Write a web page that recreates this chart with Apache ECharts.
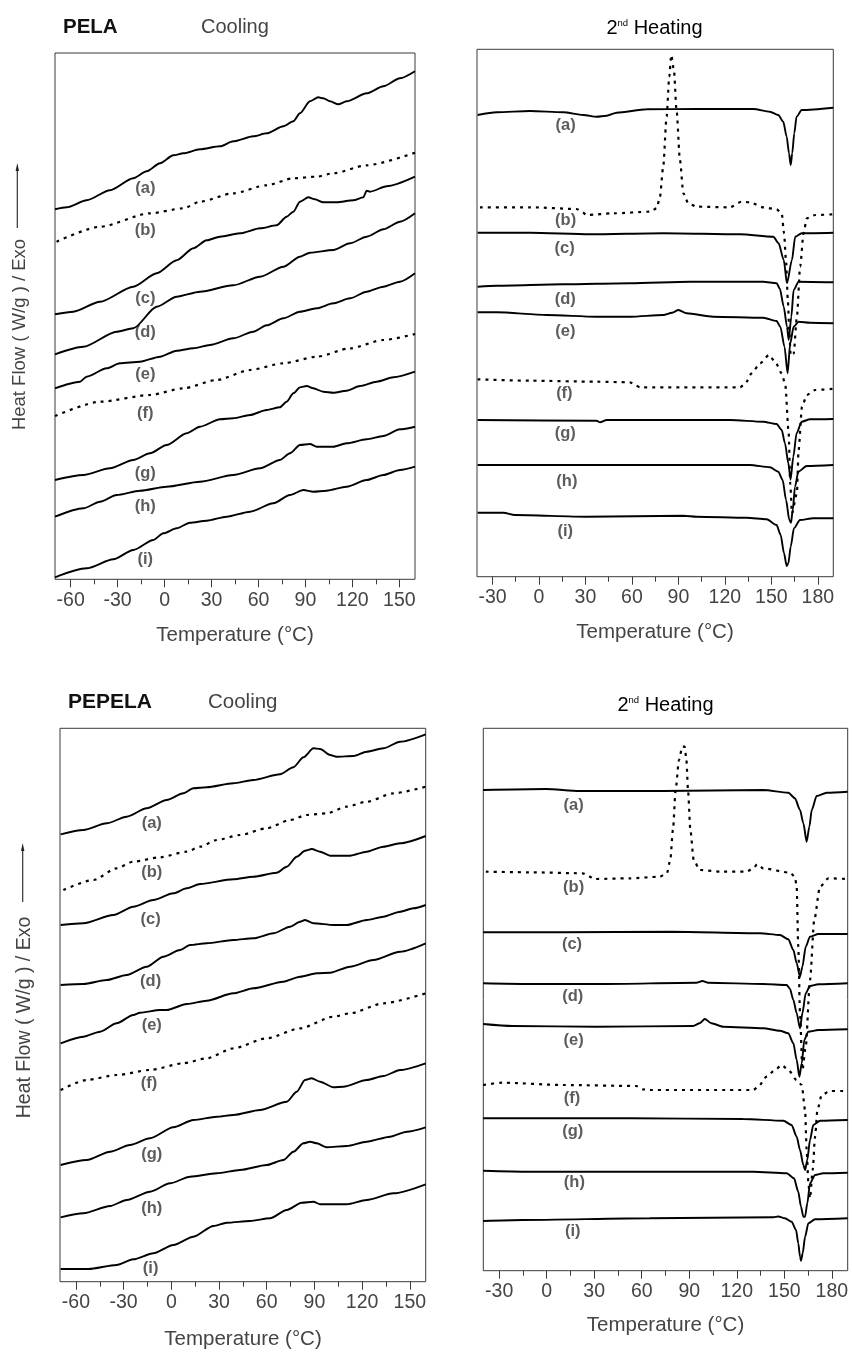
<!DOCTYPE html>
<html><head><meta charset="utf-8">
<script src="https://cdn.jsdelivr.net/npm/echarts@6/dist/echarts.min.js"></script>
<style>html,body{margin:0;padding:0;background:#fff}#c{width:852px;height:1354px}</style>
</head><body><div id="c"></div><script>
// ---------- tick labels ----------
const coolTicks = [-60,-30,0,30,60,90,120,150];
const coolMinorTicks = [-45,-15,15,45,75,105,135];
const heatTicks = [-30,0,30,60,90,120,150,180];
const heatMinorTicks = [-15,15,45,75,105,135,165];
const curveLetters = ['(a)','(b)','(c)','(d)','(e)','(f)','(g)','(h)','(i)'];
const dottedCurves = ['(b)','(f)'];

// ---------- PELA cooling [T (°C), heat flow (arb., offset)] ----------
const pelaCoolA = [[-70,370],[-62.5,372],[-49.8,379],[-34.9,389],[-20,401],[-11.4,408],[-2.9,416],[5.6,424],[12,426],[22.6,430],[35.4,433],[43.9,438],[56.7,443],[65.2,446],[75.9,453],[82.3,458],[86.5,466],[92.9,478],[98.2,482],[101.4,481],[105.7,478],[111,475],[116.3,478],[129.1,486],[139.8,493],[150.4,501],[160,508]];
const pelaCoolB = [[-69,337.6],[-41.2,352.6],[-9.3,366],[12,371],[22.6,377.6],[43.9,386],[65.2,394],[82.3,401],[97.1,402.6],[107.8,406],[129.1,414],[160,426.6]];
const pelaCoolC = [[-70,265],[-58.3,267.6],[-41.2,277.6],[-20,292.6],[-5,306],[7.7,319],[18.4,331],[26.9,339],[35.4,342.6],[48.2,346],[61,351],[71.6,354],[78,362.6],[82.3,367.6],[86.5,377.6],[91.9,382],[96.1,380],[101.4,377],[110,377],[120.6,379],[127,382],[129.1,388.6],[131.2,387.6],[141.9,393],[160,402.6]];
const pelaCoolD = [[-70,225],[-51.9,232.6],[-30.6,247.6],[-20,251],[-5,272.6],[7.7,282.6],[22.6,287.6],[43.9,294],[61,302.6],[75.9,312.6],[86.5,322.6],[92.9,326.6],[107.8,329.3],[118.5,336],[129.1,342.6],[139.8,350],[150.4,357.6],[160,366]];
const pelaCoolE = [[-70,191],[-54,197.6],[-49.8,202.6],[-37,211],[-28.5,216],[-15.7,217.6],[-2.9,222.6],[7.7,228.6],[18.4,231],[29,234.3],[43.9,241],[56.7,247.6],[65.2,254],[75.9,261],[86.5,267.6],[97.2,271],[107.8,276],[118.5,281],[129.1,287.6],[139.8,292.6],[150.4,297.6],[160,306]];
const pelaCoolF = [[-70,163.3],[-41.2,177.6],[-9.3,184.3],[12,191],[33.3,199.3],[54.6,209.3],[75.9,216],[97.2,222.6],[118.5,231],[139.8,239.3],[160,245.3]];
const pelaCoolG = [[-70,99.3],[-51.9,104.3],[-34.9,111],[-20,119.3],[-9.3,126],[1.3,134.3],[14.1,146],[22.6,152.6],[35.4,160],[43.9,161],[54.6,164.3],[65.2,169.3],[73.7,172],[78,177.6],[82.3,186],[86.5,191.9],[90.8,193.3],[95,191],[101.4,187.6],[107.8,186.6],[116.3,188.6],[124.9,193.3],[135.5,197.6],[146.2,202],[160,207.6]];
const pelaCoolH = [[-70,62.6],[-51.9,71],[-41.2,77.6],[-30.6,84.3],[-15.7,88.6],[1.3,92.6],[22.6,97.6],[43.9,104.3],[61,111],[73.7,119.3],[80.1,126],[86.5,134.3],[92.9,135.3],[97.2,132.6],[107.8,132.6],[116.3,136],[129.1,140],[139.8,143.3],[150.4,150],[160,152.6]];
const pelaCoolI = [[-70,2],[-49.8,11],[-32.7,20],[-20,29.3],[-7.2,39.3],[-0.8,46],[7.7,51],[16.2,56.6],[26.9,58.6],[39.7,62.6],[54.6,67.6],[69.5,76],[80.1,84.3],[88.7,89.3],[95,87.6],[103.5,88.6],[116.3,92.6],[129.1,99.3],[139.8,104.3],[150.4,109.3],[160,112.6]];
const pelaCoolLabelAt = [[-12.3,391],[-12.3,349],[-12.3,281],[-12.3,247],[-12.3,205],[-12.3,166],[-12.3,106],[-12.3,73],[-12.3,20]];

// ---------- PELA 2nd heating ----------
const pelaHeatA = [[-39.6,461.7],[-27.3,464.4],[-5.8,465.7],[15.7,464.4],[28.6,461.7],[37.2,460],[43.7,461],[50.2,464],[69.5,467.4],[101.8,467.7],[138.4,467.7],[149.1,465],[154.5,461.7],[157.7,455],[159.9,440],[161.4,423.4],[162.5,411.7],[163.5,423.4],[164.8,443.4],[166.3,460],[169.6,466.7],[190,469]];
const pelaHeatB = [[-38.1,369.4],[-5.8,369.4],[24.3,367.7],[27.6,365],[30.8,361.7],[48,363.4],[71.7,365],[76,368.4],[78.1,380],[80.2,410],[82.4,460],[84.1,500],[85.4,521.7],[87.1,506.7],[88.8,466.7],[91,416.7],[93.2,383.4],[96.4,373.4],[101.8,370],[123.3,369.4],[130.8,375],[136.2,374.4],[144.8,369.4],[153.4,367.4],[156.7,363.4],[158.2,343.4],[159.5,315],[160.7,275],[161.6,245],[162.5,221],[164.4,223],[166.5,260],[168.6,310],[170.8,343.4],[172.9,358.4],[178.4,361.7],[190,362.4]];
const pelaHeatC = [[-39.6,344],[-5.8,344],[33,342.4],[80.3,343.4],[129.8,342.4],[151.3,340],[154.7,333.4],[158,316.7],[160.1,293.4],[163.3,316.7],[165.4,340],[169.6,343.4],[190,344]];
const pelaHeatD = [[-39.6,290],[-27.3,291],[15.7,292.4],[58.8,293.4],[97.5,295],[144.8,295],[153.4,293.4],[155.5,288],[158,270],[160.1,250],[161.2,236.7],[162.9,260],[164.4,286.7],[167.6,295],[190,294.4]];
const pelaHeatE = [[-39.6,264.4],[-27.3,264.4],[5,261.7],[37.2,260],[58.8,260],[80.3,261.7],[86,264],[90,266.7],[95.3,263.4],[112.5,260],[144.8,259],[153.4,255.7],[155.8,250],[158.5,230],[160.5,203.4],[162.2,233.4],[164.4,250],[167.6,255],[175,254],[190,253.4]];
const pelaHeatF = [[-39.6,197.4],[-5.8,196],[37.2,195],[58.8,194.4],[62,191.7],[65.2,189.4],[129.8,189.4],[133,192.7],[137.3,203.4],[142.7,213.4],[148.5,221.7],[152.4,215],[156.7,203.4],[159,192],[161.2,143.4],[162.2,93.4],[163.3,63.4],[166.5,83.4],[167.6,126.7],[169.8,170],[172.9,181.7],[178.4,186.7],[190,188]];
const pelaHeatG = [[-39.6,156.7],[37.2,156],[39.4,154.4],[43.7,156.7],[123.3,156.7],[144.8,155],[153.4,152.7],[156.7,146.7],[158.8,133.4],[161,113.4],[162.4,97],[164.2,120],[166.3,143.4],[169.6,155],[175,157.4],[190,157.7]];
const pelaHeatH = [[-39.6,111.7],[136.2,111.7],[149.1,109.4],[154.5,105],[157.3,96.7],[159.5,76.7],[161.6,56.7],[162.7,54],[163.8,66.7],[165.3,90],[167.4,105],[172.8,110.7],[190,111.7]];
const pelaHeatI = [[-39.6,64],[-23,64],[-15.5,61.7],[30.8,60],[93.2,61],[101.8,60],[134.1,59],[147,57.4],[153.4,51.7],[156,41.7],[158.2,23.4],[159.9,10.7],[161,13.4],[162.5,30],[164.6,48.4],[168.5,56.7],[177.1,58.4],[190,58.4]];
const pelaHeatLabelAt = [[17.2,451.7],[17.2,356.7],[16.6,328.4],[17,277.4],[17,245],[16.4,183.4],[17,143.4],[18,95],[17,45]];

// ---------- PEPELA cooling ----------
const pepelaCoolA = [[-69.6,447.4],[-55.3,451.7],[-40.6,458.4],[-28.1,465],[-15.5,473.4],[-2.9,481.7],[7.6,488.4],[13.9,493.4],[22.3,494.4],[39,498.4],[51.6,501.7],[68.4,507.4],[76.8,514.4],[83.1,524.4],[89.4,533.4],[93.6,532.7],[99.9,526.7],[104,525],[114.5,525.7],[122.9,530],[133.4,533.4],[143.9,540],[160,547.4]];
const pepelaCoolB = [[-67.9,391.7],[-49,401.7],[-34.4,413.4],[-23.9,420],[-7.1,424.4],[9.7,430],[18.1,435],[28.6,441.7],[43.2,446.7],[60,453.4],[74.7,461.7],[85.2,466.7],[97.8,468.4],[110.3,475],[122.9,480],[139.7,488.4],[160,495]];
const pepelaCoolC = [[-69.6,356.7],[-55.3,358.4],[-36.4,366.7],[-23.9,375],[-11.3,381.7],[1.3,388.4],[9.7,393.4],[18.1,397.7],[39,402.4],[51.6,405],[66.3,409],[72.6,415],[78.9,425],[84.1,431],[88.3,432.7],[93.6,430],[99.9,426],[112.4,426],[122.9,430],[133.4,435],[143.9,438.4],[160,445.7]];
const pepelaCoolD = [[-69.6,296.7],[-55.3,297.7],[-40.6,301.7],[-28.1,306.7],[-15.5,315],[-5,325],[5.5,331.7],[11.8,336.7],[22.3,338.4],[39,341.7],[51.6,343.4],[64.2,348.4],[74.7,355],[81,360],[84.1,361.7],[89.4,358.4],[102,356.7],[110.3,356.7],[122.9,361.7],[133.4,365],[143.9,370],[152.3,373.4],[160,376.7]];
const pepelaCoolE = [[-69.6,238.4],[-55.3,245],[-44.8,250],[-34.4,258.4],[-23.9,266.7],[-19.7,269],[-7.1,271.7],[-2.9,271.7],[9.7,277.7],[22.3,281],[39,288.4],[51.6,293.4],[70.5,300],[81,305],[91.5,308.4],[99.9,309],[112.4,315],[127.1,321.7],[143.9,330],[160,338.4]];
const pepelaCoolF = [[-69.6,191.7],[-53.2,201.7],[-34.4,206.7],[-13.4,211.7],[7.6,218.4],[22.3,223.4],[39,233.4],[60,243.4],[81,253.4],[102,265],[112.4,268.4],[133.4,278.4],[160,288.4]];
const pepelaCoolG = [[-69.6,116.7],[-53.2,121.7],[-38.5,130],[-26,136.7],[-13.4,143.4],[1.3,154.4],[13.9,161.7],[28.6,165],[39,166.7],[55.8,171.7],[72.6,180],[78.9,190],[84.1,201.7],[88.3,203.4],[93.6,200],[102,194.4],[108.2,195],[122.9,201.7],[133.4,205.7],[143.9,211.7],[160,218.4]];
const pepelaCoolH = [[-69.6,64.4],[-55.3,68.4],[-38.5,75.7],[-28.1,81.7],[-13.4,90],[-0.8,98.4],[11.8,105],[28.6,108.4],[43.2,111.7],[60,116.7],[70.5,121.7],[76.8,130],[83.1,138.4],[87.3,140],[91.5,138.4],[97.8,134.4],[110.3,135.7],[122.9,140],[137.6,145],[148.1,150],[160,154.4]];
const pepelaCoolI = [[-69.6,12.7],[-52.2,12.7],[-34.4,16.7],[-23.9,22.4],[-11.3,28.4],[1.3,36.7],[13.9,45],[26.5,55.7],[34.9,59],[49.5,60.7],[62.1,63.4],[72.6,71.7],[82,79],[89.4,80],[93.6,77.4],[110.3,77.4],[122.9,81.7],[139.7,88.4],[160,97.4]];
const pepelaCoolLabelAt = [[-12.3,458.4],[-12.3,409],[-13,362.4],[-13,300],[-12.3,256.7],[-14,198.4],[-12.3,127.7],[-12.3,73.4],[-13,13.4]];

// ---------- PEPELA 2nd heating ----------
const pepelaHeatA = [[-40.1,480.7],[-0.5,481.7],[20.6,479.7],[73.4,479.7],[136.7,480.7],[152.5,478],[156.7,472.4],[159.9,460.7],[162,447.4],[164.1,429],[165.8,444],[167.3,460.7],[170.4,474.7],[176.8,478],[190,479]];
const pepelaHeatB = [[-38.4,399],[-11,398.4],[22.8,397.4],[27,394],[30.1,391.7],[52.3,392.4],[71.3,394],[75.9,397.4],[78,410.7],[79.7,440.7],[81.4,480.7],[83.5,510.7],[85.6,524],[87.1,524],[88.2,510.7],[89.2,480.7],[90.7,440.7],[92.8,410.7],[96.6,400.7],[111.4,399],[126.1,399],[130.4,402.4],[132.9,406.4],[136.7,402.4],[153.6,398],[156.7,394],[157.8,384],[158.8,324],[159.9,257.4],[161.4,200.7],[163.5,224],[166.2,290.7],[168.9,350.7],[172.5,384],[177.8,392.4],[190,391.7]];
const pepelaHeatC = [[-40.1,338.4],[10.1,338.4],[78.7,339],[134.6,337.4],[147.2,335.7],[152.5,331.5],[155.7,320.7],[157.8,307.4],[159.9,294],[161.4,304],[163.5,324],[166.2,334],[171.5,336.7],[190,336.7]];
const pepelaHeatD = [[-40.1,287.4],[-11,286.7],[35.4,286.7],[94.5,288],[98.3,289.7],[101.9,288],[136.7,286.7],[151.5,285.7],[153.5,282],[155.7,270.7],[157.8,257.4],[159.9,242.4],[161.4,257.4],[163.5,277.4],[166.2,284.7],[171.5,286.4],[190,287.4]];
const pepelaHeatE = [[-40.1,246.7],[-21.6,244.7],[31.2,244],[92.4,244.7],[96.6,247.4],[99.8,251.7],[104,247.4],[111.4,244],[136.7,242.4],[147.2,240],[152.5,237.4],[155.7,227.4],[157.8,210.7],[159.5,194],[161,207.4],[162.6,230.7],[165.1,239],[171.5,240.7],[190,241.4]];
const pepelaHeatF = [[-40.1,185.7],[-27.9,188],[10.1,185.7],[56.5,184.7],[60.7,181.4],[64.9,180.7],[130.4,180.7],[133.5,184],[138.8,194],[144.1,200.7],[148.3,205.7],[152.5,200.7],[157.8,190.7],[161,185.7],[163.1,160.7],[164.1,120.7],[165.2,87.4],[166.2,72.4],[167.9,100.7],[169.4,134],[170.9,160.7],[173.6,175.7],[178.9,179.7],[187.3,179.7]];
const pepelaHeatG = [[-40.1,152.4],[52.3,152.4],[124,151.7],[149.4,150],[154.6,145.7],[157.8,134],[159.9,120.7],[162,105.7],[163.1,100.7],[164.5,110.7],[166.2,130.7],[168.3,145.7],[172.6,150],[190,150.7]];
const pepelaHeatH = [[-40.1,100],[-11,99],[62.8,99],[130.4,99],[151.5,97.4],[156.1,92.4],[158.8,79],[160.5,64],[162,54],[163.1,54],[164.5,67.4],[166.2,87.4],[169.4,95.7],[174.6,97.4],[190,98]];
const pepelaHeatI = [[-40.1,49.7],[-15.2,50.7],[65,52.4],[143,53.4],[146.2,54.2],[150.4,52.4],[154.6,49],[157.4,40.7],[158.8,27.4],[159.9,14],[160.5,10],[161.6,17.4],[163.1,34],[165.2,47.4],[169.4,51.4],[190,52.4]];
const pepelaHeatLabelAt = [[17,465.7],[17,383.4],[16,326.7],[16.5,274.7],[17,230],[16,172.4],[16.5,139],[17.5,88.4],[16.5,39]];

// ---------- layout ----------
const FONT = '"Liberation Sans", Arial, sans-serif';
const panels = [
  {grid:{left:55, top:53, width:360, height:526.3}, min:-70, max:160, ticks:coolTicks, minor:coolMinorTicks,
   curves:[pelaCoolA,pelaCoolB,pelaCoolC,pelaCoolD,pelaCoolE,pelaCoolF,pelaCoolG,pelaCoolH,pelaCoolI], labels:pelaCoolLabelAt},
  {grid:{left:477, top:49.3, width:356.3, height:527.4}, min:-40, max:190, ticks:heatTicks, minor:heatMinorTicks,
   curves:[pelaHeatA,pelaHeatB,pelaHeatC,pelaHeatD,pelaHeatE,pelaHeatF,pelaHeatG,pelaHeatH,pelaHeatI], labels:pelaHeatLabelAt},
  {grid:{left:60, top:728.3, width:365.7, height:553.4}, min:-70, max:160, ticks:coolTicks, minor:coolMinorTicks,
   curves:[pepelaCoolA,pepelaCoolB,pepelaCoolC,pepelaCoolD,pepelaCoolE,pepelaCoolF,pepelaCoolG,pepelaCoolH,pepelaCoolI], labels:pepelaCoolLabelAt},
  {grid:{left:483.3, top:728.3, width:364.4, height:542.4}, min:-40, max:190, ticks:heatTicks, minor:heatMinorTicks,
   curves:[pepelaHeatA,pepelaHeatB,pepelaHeatC,pepelaHeatD,pepelaHeatE,pepelaHeatF,pepelaHeatG,pepelaHeatH,pepelaHeatI], labels:pepelaHeatLabelAt}
];

const grid = [], xAxis = [], yAxis = [], series = [];
panels.forEach((p, i) => {
  grid.push(Object.assign({show:true, borderColor:'#3a3a3a', borderWidth:1, backgroundColor:'transparent', containLabel:false}, p.grid));
  xAxis.push({gridIndex:i, type:'value', min:p.min, max:p.max, position:'bottom',
    axisLine:{show:false, onZero:false}, splitLine:{show:false},
    axisTick:{show:true, inside:false, length:8, customValues:p.ticks, lineStyle:{color:'#3a3a3a', width:1}},
    axisLabel:{show:true, customValues:p.ticks, margin:11, fontSize:19.5, color:'#444', fontFamily:FONT}});
  xAxis.push({gridIndex:i, type:'value', min:p.min, max:p.max, position:'bottom',
    axisLine:{show:false, onZero:false}, splitLine:{show:false},
    axisTick:{show:true, inside:false, length:5, customValues:p.minor, lineStyle:{color:'#3a3a3a', width:1}},
    axisLabel:{show:false}});
  yAxis.push({gridIndex:i, type:'value', min:0, max:p.grid.height, show:false});
  p.curves.forEach((d, k) => {
    const dotted = dottedCurves.includes(curveLetters[k]);
    series.push({type:'line', xAxisIndex:2*i, yAxisIndex:i, data:d, symbol:'none', silent:true,
      smooth:0.25, smoothMonotone:'x', animation:false,
      lineStyle:{color:'#000', width: dotted ? 2.2 : 1.9, type: dotted ? [3,5] : 'solid'}});
  });
  series.push({type:'scatter', xAxisIndex:2*i, yAxisIndex:i, symbolSize:0, silent:true, animation:false,
    data:p.labels.map((v, k) => ({value:v, name:curveLetters[k]})),
    label:{show:true, position:'inside', formatter:'{b}', fontSize:16.5, fontWeight:'bold', color:'#333', fontFamily:FONT}});
});

function txt(x, y, text, size, opts) {
  return {type:'text', x:x, y:y, rotation:(opts && opts.rot) || 0, silent:true,
    style:Object.assign({text:text, fontSize:size, fontFamily:FONT, fill:'#444', align:'left', verticalAlign:'middle'}, opts && opts.style)};
}
const heatRich = {n:{fontSize:20, fontFamily:FONT, color:'#444'}, s:{fontSize:9.5, fontFamily:FONT, color:'#444', verticalAlign:'top'}};
const graphic = [
  txt(63, 27, 'PELA', 20.5, {style:{fontWeight:'bold', fill:'#111'}}),
  txt(201, 27.5, 'Cooling', 20),
  {type:'text', x:654.5, y:28, silent:true, style:{text:'{n|2}{s|nd}{n| Heating}', rich:heatRich, align:'center', verticalAlign:'middle'}},
  txt(68, 702, 'PEPELA', 21, {style:{fontWeight:'bold', fill:'#111'}}),
  txt(208, 702, 'Cooling', 20.5),
  {type:'text', x:665.5, y:705, silent:true, style:{text:'{n|2}{s|nd}{n| Heating}', rich:heatRich, align:'center', verticalAlign:'middle'}},
  txt(235, 635, 'Temperature (°C)', 20.5, {style:{align:'center'}}),
  txt(655, 632.5, 'Temperature (°C)', 20.5, {style:{align:'center'}}),
  txt(243, 1339.5, 'Temperature (°C)', 20.5, {style:{align:'center'}}),
  txt(665.5, 1325.5, 'Temperature (°C)', 20.5, {style:{align:'center'}}),
  txt(20, 334.5, 'Heat Flow ( W/g ) / Exo', 18.5, {rot:Math.PI/2, style:{align:'center'}}),
  txt(25, 1017.5, 'Heat Flow ( W/g ) / Exo', 19.5, {rot:Math.PI/2, style:{align:'center'}}),
  {type:'line', silent:true, shape:{x1:17.3, y1:228, x2:17.3, y2:169}, style:{stroke:'#333', lineWidth:1.2}},
  {type:'polygon', silent:true, shape:{points:[[17.3,163],[15.6,171],[19,171]]}, style:{fill:'#222'}},
  {type:'line', silent:true, shape:{x1:22.7, y1:902, x2:22.7, y2:849}, style:{stroke:'#333', lineWidth:1.2}},
  {type:'polygon', silent:true, shape:{points:[[22.7,843],[21,851],[24.4,851]]}, style:{fill:'#222'}}
];

const chart = echarts.init(document.getElementById('c'), null, {renderer:'canvas'});
chart.setOption({animation:false, backgroundColor:'#fff', grid, xAxis, yAxis, series, graphic});
</script></body></html>
